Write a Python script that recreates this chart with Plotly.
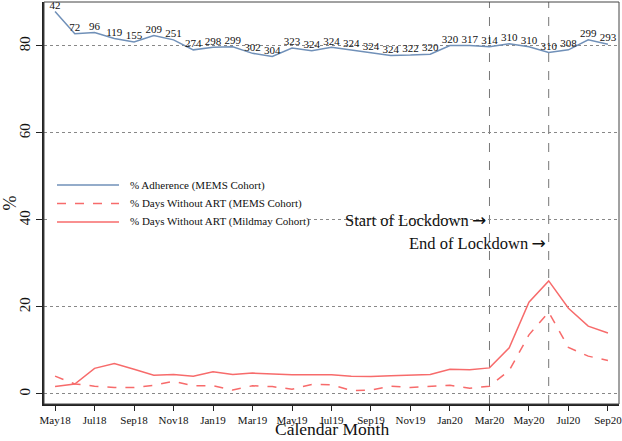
import plotly.graph_objects as go

months = ["May18","Jun18","Jul18","Aug18","Sep18","Oct18","Nov18","Dec18",
          "Jan19","Feb19","Mar19","Apr19","May19","Jun19","Jul19","Aug19",
          "Sep19","Oct19","Nov19","Dec19","Jan20","Feb20","Mar20","Apr20",
          "May20","Jun20","Jul20","Aug20","Sep20"]
adherence_mems = [87.9, 82.8, 83.1, 81.7, 80.9, 82.4, 81.4, 79.1, 79.7, 79.8,
                  78.3, 77.6, 79.5, 78.9, 79.7, 79.1, 78.5, 77.8, 77.9, 78.1,
                  80.1, 80.1, 79.8, 80.5, 79.8, 78.5, 79.1, 81.4, 80.4]
n_mems = [42, 72, 96, 119, 155, 209, 251, 274, 298, 299, 302, 304, 323, 324, 324,
          324, 324, 324, 322, 320, 320, 317, 314, 310, 310, 310, 308, 299, 293]
days_without_mems = [4.1, 2.3, 1.8, 1.5, 1.5, 2.0, 2.9, 1.9, 1.9, 0.9, 1.9, 1.7,
                     1.1, 2.2, 2.1, 0.8, 0.9, 1.8, 1.5, 1.8, 2.0, 1.3, 1.8, 5.4,
                     13.6, 18.8, 10.7, 8.7, 7.7]
days_without_mildmay = [1.7, 2.3, 5.9, 7.0, 5.7, 4.3, 4.5, 4.1, 5.1, 4.5, 4.8, 4.6,
                        4.4, 4.4, 4.4, 4.1, 4.0, 4.2, 4.4, 4.5, 5.7, 5.6, 6.0, 10.6,
                        21.1, 26.0, 19.7, 15.6, 14.0]
tick_labels = months[::2]
y_ticks = [0, 20, 40, 60, 80]
lockdown_start = "Mar20"
lockdown_end = "Jun20"
series_names = ["% Adherence (MEMS Cohort)",
                "% Days Without ART (MEMS Cohort)",
                "% Days Without ART (Mildmay Cohort)"]

x = list(range(len(months)))
FONT = "Liberation Serif, Times New Roman, serif"
BLUE = "#7090b8"
RED = "#f76b6b"
ARROW = "\u2009<span style='font-family:DejaVu Sans;font-size:17px'>\u2192</span>"

W, H = 622, 441
ML, MR, MT, MB = 44, 3, 2, 37
PW, PH = W - ML - MR, H - MT - MB


def px_to_paper(px, py):
    return (px - ML) / PW, (H - MB - py) / PH


fig = go.Figure()
fig.add_trace(go.Scatter(
    x=x, y=adherence_mems, mode="lines+text", name=series_names[0],
    line=dict(color=BLUE, width=1.5),
    text=[str(v) for v in n_mems], textposition="top center",
    textfont=dict(family=FONT, size=11, color="#111"),
))
fig.add_trace(go.Scatter(
    x=x, y=days_without_mems, mode="lines", name=series_names[1],
    line=dict(color=RED, width=1.5, dash="dash"),
))
fig.add_trace(go.Scatter(
    x=x, y=days_without_mildmay, mode="lines", name=series_names[2],
    line=dict(color=RED, width=1.5),
))

for m in (lockdown_start, lockdown_end):
    xi = months.index(m)
    fig.add_shape(type="line", xref="x", yref="paper", x0=xi, x1=xi, y0=0, y1=1,
                  line=dict(color="#777", width=1, dash="dash"), layer="below")

fig.add_annotation(x=months.index(lockdown_start), y=40, xref="x", yref="y",
                   text="Start of Lockdown" + ARROW, showarrow=False, xanchor="right",
                   xshift=-1, font=dict(family=FONT, size=16.5, color="#111"))
fig.add_annotation(x=months.index(lockdown_end), y=34.7, xref="x", yref="y",
                   text="End of Lockdown" + ARROW, showarrow=False, xanchor="right",
                   xshift=-1, font=dict(family=FONT, size=16.5, color="#111"))

# manual legend (white box, long line samples)
bx0, by0 = px_to_paper(49, 174)
bx1, by1 = px_to_paper(305, 232)
fig.add_shape(type="rect", xref="paper", yref="paper", x0=bx0, x1=bx1, y0=by1, y1=by0,
              fillcolor="white", line=dict(width=0), layer="above")
leg_styles = [(BLUE, "solid"), (RED, "dash"), (RED, "solid")]
leg_rows = [185, 203.5, 222]
for name, (col, dash), py in zip(series_names, leg_styles, leg_rows):
    lx0, ly = px_to_paper(57, py)
    lx1, _ = px_to_paper(119, py)
    tx, _ = px_to_paper(128, py)
    fig.add_shape(type="line", xref="paper", yref="paper", x0=lx0, x1=lx1, y0=ly, y1=ly,
                  line=dict(color=col, width=1.5, dash=dash), layer="above")
    fig.add_annotation(x=tx, y=ly, xref="paper", yref="paper", text=name,
                       showarrow=False, xanchor="left", yanchor="middle",
                       font=dict(family=FONT, size=11, color="#111"))

# x-axis title
fig.add_annotation(x=0.5, y=0, xref="paper", yref="paper", text="Calendar Month",
                   showarrow=False, yanchor="bottom", yshift=-37,
                   font=dict(family=FONT, size=17.5, color="#111"))

fig.update_layout(
    width=W, height=H,
    margin=dict(l=ML, r=MR, t=MT, b=MB, autoexpand=False),
    plot_bgcolor="white", paper_bgcolor="white",
    font=dict(family=FONT, color="#111"),
    showlegend=False,
    xaxis=dict(
        range=[-0.56, len(months) - 1 + 0.56],
        tickvals=x[::2], ticktext=tick_labels,
        tickfont=dict(family=FONT, size=11, color="#111"),
        ticks="outside", ticklen=5, tickcolor="#222",
        showline=True, linecolor="#222", linewidth=1.5, mirror=False,
        showgrid=False, zeroline=False, automargin=False,
        ticklabeloverflow="allow",
    ),
    yaxis=dict(
        range=[-2.3, 90.1],
        tickvals=y_ticks, tickangle=-90,
        tickfont=dict(family=FONT, size=15, color="#111"),
        ticks="outside", ticklen=6, tickcolor="#222",
        showline=True, linecolor="#222", linewidth=1.5,
        showgrid=True, gridcolor="#888", griddash="dot", gridwidth=1,
        zeroline=False, automargin=False,
        title=dict(text="%", font=dict(family=FONT, size=18), standoff=2),
    ),
)
fig.add_shape(type="rect", xref="paper", yref="paper", x0=0, x1=1, y0=0, y1=1,
              line=dict(color="#444", width=1))

fig.write_html("out.html", config={"displayModeBar": False},
               post_script="document.body.style.margin='0';document.body.style.overflow='hidden';")
